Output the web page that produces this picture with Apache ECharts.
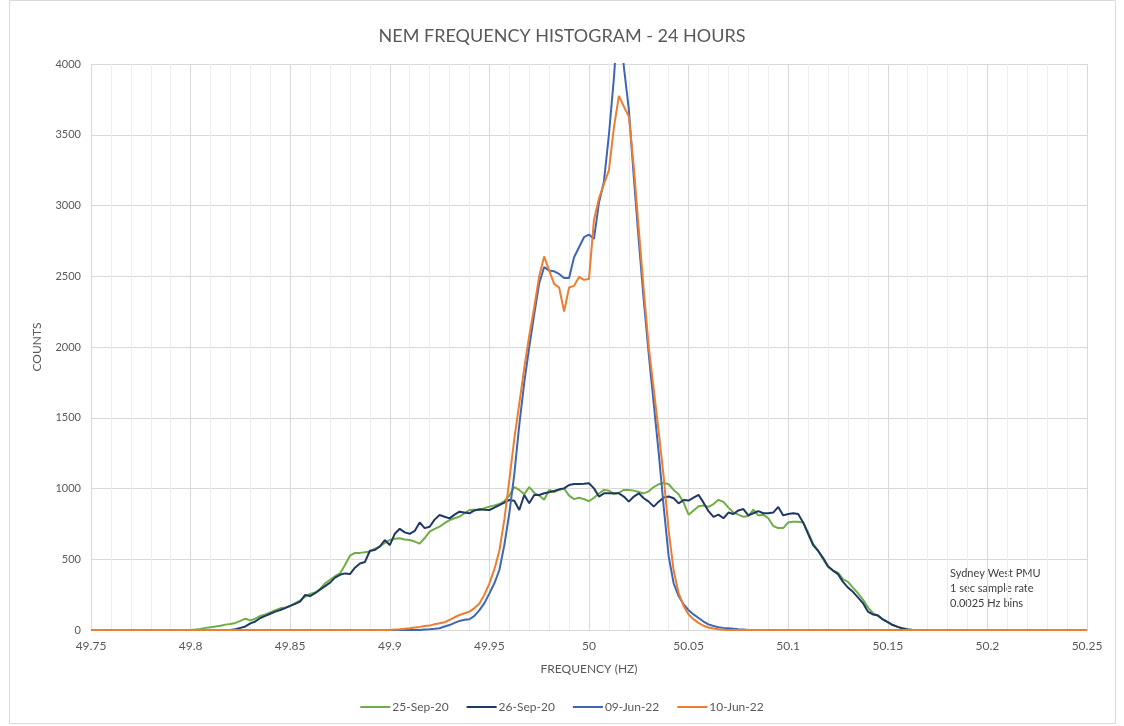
<!DOCTYPE html>
<html>
<head>
<meta charset="utf-8">
<script src="https://cdn.jsdelivr.net/npm/echarts@6/dist/echarts.min.js"></script>
<style>
html,body{margin:0;padding:0;background:#fff;}
#chart{width:1124px;height:726px;}
</style>
</head>
<body>
<div id="chart"></div>
<script>
// Histogram bins: 0.0025 Hz wide, from 49.75 to 50.25 Hz
const BIN_START = 49.75;
const BIN_WIDTH = 0.0025;
const BIN_COUNT = 201;

const seriesNames = ['25-Sep-20', '26-Sep-20', '09-Jun-22', '10-Jun-22'];
const seriesColors = ['#70AD47', '#1F3864', '#3F66B5', '#ED7D31'];

// Each row = 20 bins (0.05 Hz), rows start at 49.75, 49.80, ... 50.20; last single value = 50.25
const sep25 = [
  0,0,0,0,0,0,0,0,0,0,0,0,0,0,0,0,0,0,0,0,
  0,3,8,15,20,25,30,38,42,50,65,80,68,80,100,110,125,140,153,160,
  170,190,210,235,255,265,290,330,355,380,400,460,525,545,545,550,555,575,590,615,
  636,645,648,640,636,625,610,650,695,715,730,755,777,790,801,825,848,850,848,860,
  872,880,890,910,950,1010,990,960,1010,970,950,920,990,975,990,1000,950,925,935,925,
  910,935,965,990,985,960,970,990,990,985,975,965,980,1010,1030,1040,1030,990,960,900,
  815,845,875,880,870,890,920,905,865,830,815,800,805,850,810,815,790,735,720,720,
  760,765,765,760,690,610,560,500,445,420,405,360,340,300,260,215,160,120,100,75,
  55,35,22,12,5,0,0,0,0,0,0,0,0,0,0,0,0,0,0,0,
  0,0,0,0,0,0,0,0,0,0,0,0,0,0,0,0,0,0,0,0,
  0
];
const sep26 = [
  0,0,0,0,0,0,0,0,0,0,0,0,0,0,0,0,0,0,0,0,
  0,0,0,0,0,0,0,0,0,5,15,25,47,60,85,100,115,130,141,155,
  170,185,200,248,240,260,285,310,335,370,390,400,395,440,470,480,560,565,590,636,
  600,680,715,690,680,700,760,720,730,780,813,800,789,815,836,830,825,845,853,850,
  848,865,883,900,919,914,848,954,895,954,954,966,973,982,994,1001,1025,1032,1032,1034,
  1037,1001,943,966,966,966,966,943,907,943,966,931,907,872,907,937,943,931,895,919,
  915,935,955,900,840,800,815,790,830,820,845,855,810,825,840,825,825,830,870,810,
  820,825,820,760,680,600,560,510,450,420,395,340,300,270,230,190,130,110,105,75,
  55,35,22,10,4,0,0,0,0,0,0,0,0,0,0,0,0,0,0,0,
  0,0,0,0,0,0,0,0,0,0,0,0,0,0,0,0,0,0,0,0,
  0
];
const jun09 = [
  0,0,0,0,0,0,0,0,0,0,0,0,0,0,0,0,0,0,0,0,
  0,0,0,0,0,0,0,0,0,0,0,0,0,0,0,0,0,0,0,0,
  0,0,0,0,0,0,0,0,0,0,0,0,0,0,0,0,0,0,0,0,
  0,0,0,0,0,0,0,3,5,8,12,25,35,50,64,72,76,100,141,190,
  259,330,424,600,825,1100,1450,1750,2000,2230,2450,2565,2540,2535,2516,2488,2488,2634,2705,2776,
  2795,2764,3020,3170,3500,3900,4400,3980,3680,3200,2750,2330,1950,1600,1250,870,520,330,240,180,
  140,110,85,60,40,28,20,15,12,9,5,3,0,0,0,0,0,0,0,0,
  0,0,0,0,0,0,0,0,0,0,0,0,0,0,0,0,0,0,0,0,
  0,0,0,0,0,0,0,0,0,0,0,0,0,0,0,0,0,0,0,0,
  0,0,0,0,0,0,0,0,0,0,0,0,0,0,0,0,0,0,0,0,
  0
];
const jun10 = [
  0,0,0,0,0,0,0,0,0,0,0,0,0,0,0,0,0,0,0,0,
  0,0,0,0,0,0,0,0,0,0,0,0,0,0,0,0,0,0,0,0,
  0,0,0,0,0,0,0,0,0,0,0,0,0,0,0,0,0,0,0,0,
  0,3,5,8,12,18,22,28,31,40,47,55,71,90,106,118,130,155,188,250,
  330,430,560,780,1060,1350,1600,1850,2080,2280,2500,2640,2540,2446,2420,2250,2420,2432,2495,2475,
  2480,2900,3050,3150,3250,3550,3775,3700,3630,3270,2830,2400,2000,1700,1400,1080,700,420,260,170,
  110,75,50,30,18,10,5,2,0,0,0,0,0,0,0,0,0,0,0,0,
  0,0,0,0,0,0,0,0,0,0,0,0,0,0,0,0,0,0,0,0,
  0,0,0,0,0,0,0,0,0,0,0,0,0,0,0,0,0,0,0,0,
  0,0,0,0,0,0,0,0,0,0,0,0,0,0,0,0,0,0,0,0,
  0
];
const allValues = [sep25, sep26, jun09, jun10];

const noteLines = ['Sydney West PMU', '1 sec sample rate', '0.0025 Hz bins'];

const freqs = [];
for (let i = 0; i < BIN_COUNT; i++) {
  freqs.push(Math.round((BIN_START + i * BIN_WIDTH) * 10000) / 10000);
}

const FONT = 'Lato, "Open Sans", "Liberation Sans", sans-serif';
const TXT = '#595959';

const chart = echarts.init(document.getElementById('chart'), null, {renderer: 'canvas'});
chart.setOption({
  animation: false,
  backgroundColor: '#ffffff',
  title: {
    text: 'NEM FREQUENCY HISTOGRAM - 24 HOURS',
    left: 'center',
    top: 22,
    textStyle: {fontFamily: FONT, fontSize: 18, fontWeight: 'normal', color: TXT}
  },
  graphic: [
    {type: 'rect', shape: {x: 9.5, y: 0.5, width: 1106, height: 723}, style: {fill: 'none', stroke: '#d9d9d9', lineWidth: 1}, silent: true},
    {type: 'text', left: 950, top: 566, style: {text: noteLines.join('\n'), fontFamily: FONT, fontSize: 11, lineHeight: 15, fill: '#404040'}}
  ],
  legend: {
    bottom: 8,
    left: 'center',
    icon: 'rect',
    itemWidth: 30,
    itemHeight: 2,
    itemGap: 18,
    textStyle: {fontFamily: FONT, fontSize: 12, color: TXT, padding: [0, 0, 0, -3]},
    data: seriesNames
  },
  grid: {left: 91, right: 37, top: 64, bottom: 96},
  xAxis: {
    type: 'value',
    min: 49.75, max: 50.25, interval: 0.05,
    name: 'FREQUENCY (HZ)',
    nameLocation: 'middle',
    nameGap: 33,
    nameTextStyle: {fontFamily: FONT, fontSize: 12, color: TXT},
    axisLine: {show: true, lineStyle: {color: '#d9d9d9'}},
    axisTick: {show: false},
    axisLabel: {fontFamily: FONT, fontSize: 12, color: TXT, margin: 10},
    splitLine: {show: true, lineStyle: {color: '#d9d9d9', width: 1}},
    minorTick: {show: false, splitNumber: 5},
    minorSplitLine: {show: true, lineStyle: {color: '#ededed', width: 1}}
  },
  yAxis: {
    type: 'value',
    min: 0, max: 4000, interval: 500,
    name: 'COUNTS',
    nameLocation: 'middle',
    nameGap: 48,
    nameRotate: 90,
    nameTextStyle: {fontFamily: FONT, fontSize: 12, color: TXT},
    axisLine: {show: false},
    axisTick: {show: false},
    axisLabel: {fontFamily: FONT, fontSize: 11, color: TXT, margin: 10, formatter: (v) => String(v)},
    splitLine: {show: true, lineStyle: {color: '#d9d9d9', width: 1}}
  },
  series: seriesNames.map((name, k) => ({
    name: name,
    type: 'line',
    showSymbol: false,
    symbol: 'none',
    clip: true,
    color: seriesColors[k],
    lineStyle: {width: 2, color: seriesColors[k]},
    data: freqs.map((f, i) => [f, allValues[k][i]])
  }))
});
</script>
</body>
</html>
